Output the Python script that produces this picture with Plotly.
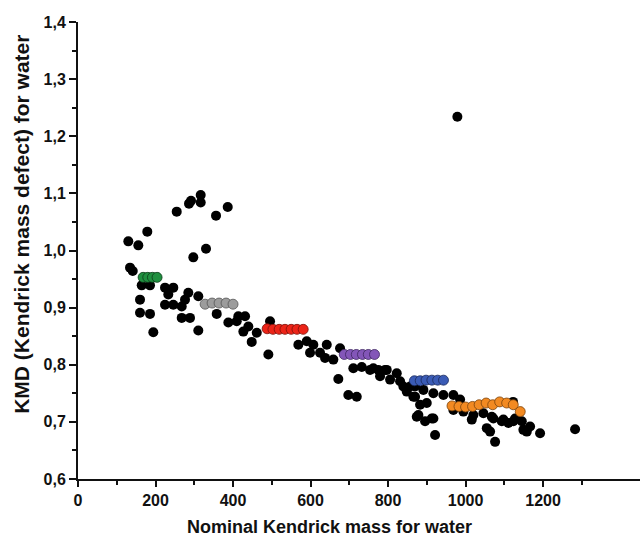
import plotly.graph_objects as go

# ---- data ----
black_x = [129.8, 155.6, 178.8, 254.7, 286.4, 291.6, 316.6, 316.6, 356.1, 386.3, 330.3, 297.5,
           134.2, 141.2, 164.4, 185.8, 160.0, 160.0, 185.8, 194.3, 224.5, 245.9, 233.0, 224.5,
           245.9, 267.6, 276.1, 284.6, 310.4, 267.6, 289.0, 310.4, 357.9, 387.9, 413.7, 431.0,
           439.5, 448.2, 461.2, 426.6, 409.5, 495.5, 491.1, 568.5, 590.2, 607.2, 624.5, 598.7,
           641.8, 676.1, 637.4, 658.8, 671.7, 710.4, 732.1, 753.5, 775.0, 796.6, 822.4, 779.3,
           805.2, 831.0, 839.5, 848.2, 869.7, 882.6, 899.8, 869.7, 891.1, 916.9, 942.7, 968.5,
           697.5, 719.2, 874.0, 895.5, 916.9, 921.3, 968.5, 994.3, 1020.1, 1045.9, 1067.6, 1097.5,
           1123.3, 1145.0, 1016.0, 1054.7, 1063.2, 1166.4, 1192.2, 1157.9, 1076.1, 1071.7, 1093.4,
           1110.4, 1127.7, 1149.1, 1282.5, 1122.5, 762.0, 792.2, 856.8, 865.3, 985.8, 878.2,
           912.7, 978.8]
black_y = [1.016, 1.009, 1.033, 1.068, 1.082, 1.087, 1.097, 1.084, 1.061, 1.076, 1.003, 0.988,
           0.970, 0.964, 0.939, 0.939, 0.914, 0.891, 0.889, 0.857, 0.935, 0.935, 0.923, 0.905,
           0.905, 0.902, 0.914, 0.926, 0.920, 0.882, 0.882, 0.860, 0.889, 0.874, 0.885, 0.885,
           0.867, 0.840, 0.856, 0.858, 0.876, 0.876, 0.818, 0.835, 0.841, 0.835, 0.821, 0.821,
           0.835, 0.829, 0.812, 0.809, 0.775, 0.794, 0.796, 0.791, 0.791, 0.791, 0.785, 0.780,
           0.774, 0.771, 0.762, 0.753, 0.744, 0.730, 0.733, 0.762, 0.756, 0.750, 0.747, 0.747,
           0.747, 0.744, 0.709, 0.701, 0.706, 0.677, 0.721, 0.718, 0.712, 0.715, 0.709, 0.704,
           0.701, 0.701, 0.704, 0.689, 0.683, 0.692, 0.680, 0.683, 0.665, 0.706, 0.701,
           0.698, 0.706, 0.686, 0.687, 0.735, 0.794, 0.791, 0.762, 0.744, 0.739, 0.712,
           0.706, 1.234]

green_x = [168, 180, 192, 204]
green_y = [0.953, 0.953, 0.953, 0.953]
gray_x = [328, 346, 364, 382, 400]
gray_y = [0.906, 0.908, 0.908, 0.908, 0.906]
red_x = [488, 503, 519, 534, 550, 565, 581]
red_y = [0.863, 0.862, 0.862, 0.862, 0.862, 0.862, 0.862]
purple_x = [687, 703, 718, 734, 749, 765]
purple_y = [0.818, 0.818, 0.818, 0.818, 0.818, 0.818]
blue_x = [868, 883, 898, 913, 928, 943]
blue_y = [0.772, 0.772, 0.773, 0.773, 0.773, 0.773]
orange_x = [965, 983, 1000, 1018, 1035, 1053, 1070, 1088, 1106, 1123, 1141]
orange_y = [0.728, 0.727, 0.726, 0.727, 0.730, 0.733, 0.730, 0.735, 0.733, 0.730, 0.718]

x_ticks = [0, 200, 400, 600, 800, 1000, 1200]
x_minor = [100, 300, 500, 700, 900, 1100, 1300]
y_ticks = [0.6, 0.7, 0.8, 0.9, 1.0, 1.1, 1.2, 1.3, 1.4]
y_labels = ["0,6", "0,7", "0,8", "0,9", "1,0", "1,1", "1,2", "1,3", "1,4"]

x_title = "Nominal Kendrick mass for water"
y_title = "KMD (Kendrick mass defect) for water"

fig = go.Figure()
fig.add_trace(go.Scatter(x=black_x, y=black_y, mode="markers",
                         marker=dict(size=10, color="#000000"), showlegend=False))
for xs, ys, col, edge in [(green_x, green_y, "#1f8f3f", "#0b3a18"),
                          (gray_x, gray_y, "#9c9c9c", "#555555"),
                          (red_x, red_y, "#ec2418", "#7a0f08"),
                          (purple_x, purple_y, "#8356b8", "#3e2660"),
                          (blue_x, blue_y, "#3a5bb5", "#1a2a5a"),
                          (orange_x, orange_y, "#f28a22", "#7a420c")]:
    fig.add_trace(go.Scatter(x=xs, y=ys, mode="markers",
                             marker=dict(size=10, color=col, line=dict(color=edge, width=0.8)),
                             showlegend=False))

FONT = "Liberation Sans, Arial, sans-serif"
axis_font = dict(family=FONT, size=16, color="#111111")

fig.update_layout(
    width=640, height=542,
    margin=dict(l=78, r=0, t=22, b=63),
    paper_bgcolor="white", plot_bgcolor="white",
    font=dict(family=FONT, color="#111111"),
    xaxis=dict(range=[0, 1450], showgrid=False, zeroline=False,
               showline=True, linecolor="#111111", linewidth=2,
               ticks="outside", ticklen=6, tickwidth=2, tickcolor="#111111",
               tickvals=x_ticks, ticktext=[f"<b>{v}</b>" for v in x_ticks],
               tickfont=axis_font,
               minor=dict(tickvals=x_minor, ticks="outside", ticklen=4, tickwidth=2,
                          tickcolor="#111111")),
    yaxis=dict(range=[0.6, 1.4], showgrid=False, zeroline=False,
               showline=True, linecolor="#111111", linewidth=2,
               ticks="outside", ticklen=7, tickwidth=2, tickcolor="#111111",
               tickvals=y_ticks, ticktext=[f"<b>{t}</b>" for t in y_labels],
               tickfont=axis_font,
               minor=dict(dtick=0.05, ticks="outside", ticklen=4, tickwidth=2,
                          tickcolor="#111111")),
    annotations=[
        dict(text=f"<b>{x_title}</b>", xref="paper", yref="paper", x=0.448, y=-0.105,
             xanchor="center", yanchor="middle", showarrow=False,
             font=dict(family=FONT, size=18, color="#111111")),
        dict(text=f"<b>{y_title}</b>", xref="paper", yref="paper", x=-0.100, y=0.558,
             xanchor="center", yanchor="middle", showarrow=False, textangle=-90,
             font=dict(family=FONT, size=21, color="#111111")),
    ],
)

fig.write_html("out.html", config={"displayModeBar": False},
               post_script="document.body.style.margin='0px';document.body.style.padding='0px';")
